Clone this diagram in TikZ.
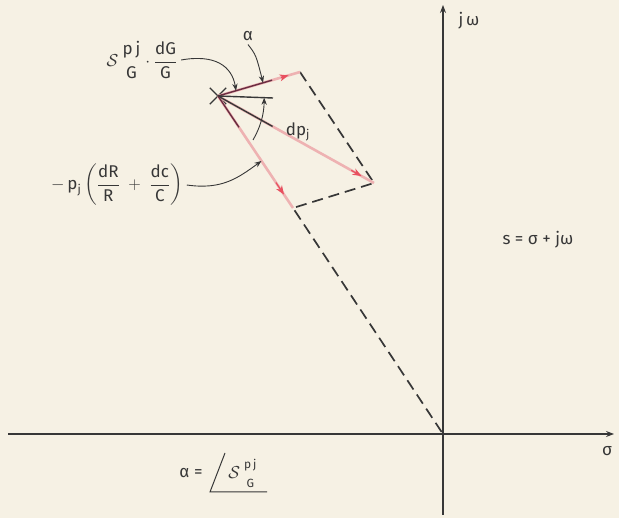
\documentclass[tikz,border=0pt]{standalone}
\usepackage{amsmath}
\usepackage{fontspec}
\setmainfont{Fira Sans}
\usetikzlibrary{arrows.meta, positioning, calc, shapes.misc}

\definecolor{paper}{RGB}{246,241,228}
\definecolor{ink}{RGB}{55,55,55}
\definecolor{maroon}{RGB}{105,45,65}
\definecolor{pinkline}{RGB}{238,178,178}
\definecolor{redtip}{RGB}{232,80,95}

% #1: estilo de los indices (0 grande, 1 pequeno)
\newcommand{\sensPG}[1]{\mathcal{S}\,\genfrac{}{}{0pt}{#1}{\text{p\,j}\rule[-5pt]{0pt}{5pt}}{\rule{0pt}{12pt}\text{G}}}

\begin{document}
\begin{tikzpicture}[x=1pt, y=-1pt, >=Stealth, line width=1pt, ink,
          every node/.style={font=\fontsize{17}{19}\selectfont, text=ink},
          axis/.style={->, line width=1.1pt},
          guide/.style={dashed, dash pattern=on 11pt off 6pt, line width=1.7pt},
          vec/.style={pinkline, line width=2.6pt},
          vectip/.style={-{Stealth[length=9pt, width=7pt]}, redtip, line width=1.2pt, shorten <=-1pt},
          stub/.style={line width=1.4pt},
          note/.style={->, line width=0.9pt}
        ]
        \fill[paper] (0,0) rectangle (619,518);

        % ejes
        \coordinate (O) at (443,434);
        \draw[axis] (443,515) -- (443,5) coordinate (imtop);
        \draw[axis] (8,434) -- (614,434) coordinate (retop);
        \node (jw)  at (469,21)  {j$\,$ω};
        \node (sig) at (607,451) {σ};
        \node (splane) at (538,240) {s = σ + jω};

        % polo y extremos del paralelogramo
        \node[cross out, draw, line width=1.4pt, minimum size=15pt, inner sep=0pt] (pole) at (218,96) {};
        \coordinate (cG) at (300,72);
        \coordinate (cP) at (374,183);
        \coordinate (cR) at (293,208);
        \coordinate (ref) at (273,98);

        % lados a trazos
        \draw[guide] (cG) -- (cP) -- (cR) -- (O);

        % vectores
        \draw[vec] (pole.center) -- (cG);
        \draw[vec] (pole.center) -- (cP);
        \draw[vec] (pole.center) -- (cR);
        \draw[vectip] ($(pole.center)!0.78!(cG)$) -- ($(pole.center)!0.86!(cG)$);
        \draw[vectip] ($(pole.center)!0.86!(cP)$) -- ($(pole.center)!0.92!(cP)$);
        \draw[vectip] ($(pole.center)!0.78!(cR)$) -- ($(pole.center)!0.88!(cR)$);
        \draw[stub, maroon] (pole.center) -- ($(pole.center)!0.66!(cG)$);
        \draw[stub] (pole.center) -- ($(pole.center)!0.35!(cP)$);
        \draw[stub, maroon] (pole.center) -- ($(pole.center)!0.28!(cR)$);
        \draw[stub] (pole.center) -- (ref);

        % rotulos con flechas
        \node (alab) at (248,36) {α};
        \coordinate (aG) at ($(pole.center)!0.55!(cG)$);
        \draw[note] (alab.south) .. controls (256,55) .. (aG);

        \node (lblS) at (142,60) {$\sensPG{0}\cdot\dfrac{\text{dG}}{\text{G}}$};
        \coordinate (dGin) at ($(pole.center)!0.22!(cG)$);
        \draw[note] (lblS.east) .. controls (215,54) and (232,66) .. (dGin);

        \node (dpj) at (298,132) {dp$_\text{j}$};
        \coordinate (arcst) at (253,140);
        \coordinate (arcend) at ($(pole.center)!0.84!(ref)$);
        \draw[note] (arcst) .. controls (260,128) and (264,115) .. (arcend);

        \node (lblR) at (117,185) {$-\,\text{p}_\text{j}\left(\dfrac{\text{dR}}{\text{R}}\;+\;\dfrac{\text{dc}}{\text{C}}\right)$};
        \coordinate (dRin) at ($(pole.center)!0.58!(cR)$);
        \draw[note] (lblR.east) .. controls (222,190) and (238,178) .. (dRin);

        % angulo de la sensibilidad
        \node (aeq) at (191,473) {α =};
        \node (angS) at (243,473) {$\sensPG{1}$};
        \coordinate (angc) at (210,492);
        \draw (225,453) -- (angc) -- (267,492);
\end{tikzpicture}
\end{document}
